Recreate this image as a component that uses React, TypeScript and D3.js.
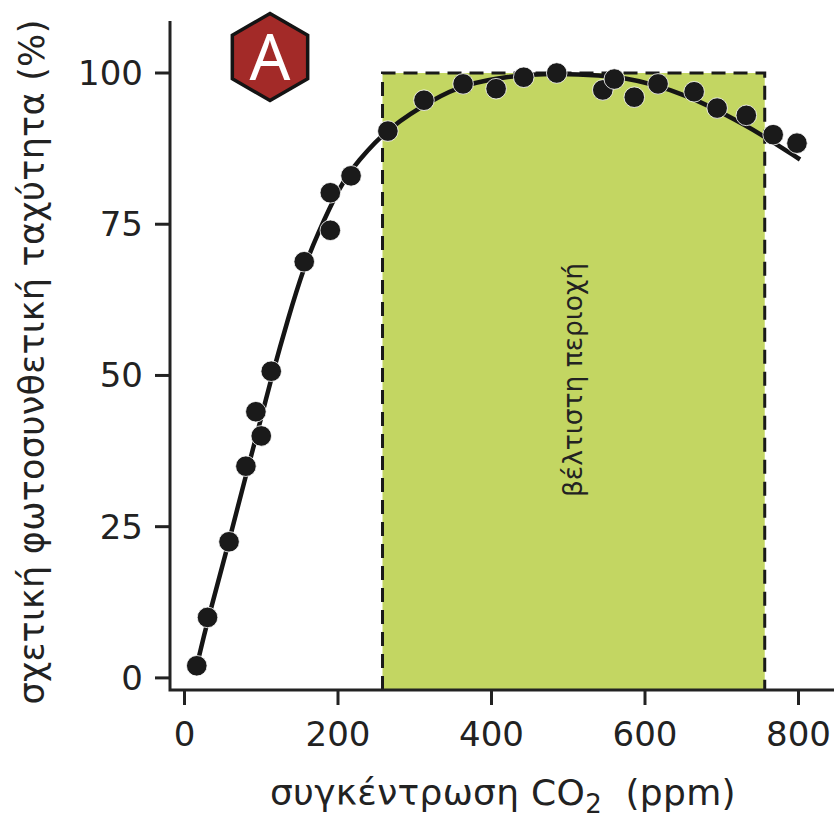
import * as d3 from "d3";
import React from "react";

const width = 836;
const height = 820;

// measured points
const pointX = [16, 30, 58, 80, 93, 100, 113, 156, 190, 190, 217, 265, 312, 363, 406, 442, 485, 545, 560, 586, 617, 664, 694, 732, 767, 798];
const pointY = [2, 10, 22.5, 35, 44, 40, 50.7, 68.8, 74, 80.2, 83, 90.4, 95.5, 98.2, 97.4, 99.3, 100, 97.2, 99, 96, 98.2, 96.9, 94.2, 93, 89.8, 88.4];

// fitted curve
const curveX = [16, 30, 58, 80, 100, 113, 135, 156, 172, 203, 225, 265, 329, 363, 420, 485, 545, 571, 606, 655, 707, 750, 802];
const curveY = [2, 9.5, 22.5, 33.5, 43, 49.5, 59.5, 68, 73, 81.5, 85.3, 91, 96, 98, 99.5, 100, 99.6, 99.2, 98.3, 96.3, 93, 90, 85.7];

const xTicks = [0, 200, 400, 600, 800];
const yTicks = [0, 25, 50, 75, 100];
const optimalRange = [258, 756];

const ink = "#222222";
const font = "'DejaVu Sans', Verdana, sans-serif";

export default function App() {
  const x = d3.scaleLinear().domain([0, 800]).range([184.5, 798.5]);
  const y = d3.scaleLinear().domain([-2, 100]).range([690, 73]);

  const axisLeft = 170;
  const axisBottom = y(-2);

  const curve = d3
    .line<number>()
    .x((d) => x(d))
    .y((d, i) => y(curveY[i]))
    .curve(d3.curveBasis);

  // hexagon badge
  const hexagon = d3
    .line<number>()
    .x((d) => 270 + 43.5 * Math.sin((d * Math.PI) / 3))
    .y((d) => 57 - 43.5 * Math.cos((d * Math.PI) / 3))
    .curve(d3.curveLinearClosed);

  const x0 = x(optimalRange[0]);
  const x1 = x(optimalRange[1]);
  const top = y(100);

  return (
    <svg
      width={width}
      height={height}
      style={{ position: "absolute", left: 0, top: 0, background: "#fff" }}
    >
      {/* optimal zone */}
      <rect x={x0} y={top} width={x1 - x0} height={axisBottom - top} fill="#c3d662" />
      <path
        d={`M${x0},${axisBottom}V${top}H${x1}V${axisBottom}`}
        fill="none"
        stroke="#1a1a1a"
        strokeWidth="3"
        strokeDasharray="14 8"
      />

      {/* axes */}
      <g stroke={ink} strokeWidth="3" fill="none">
        <path d={`M${axisLeft},21V${axisBottom}H834`} />
        {xTicks.map((t) => (
          <line key={t} x1={x(t)} x2={x(t)} y1={axisBottom} y2={705} />
        ))}
        {yTicks.map((t) => (
          <line key={t} x1={155} x2={axisLeft} y1={y(t)} y2={y(t)} />
        ))}
      </g>
      <g fontFamily={font} fontSize="34" fill={ink}>
        {xTicks.map((t) => (
          <text key={t} x={x(t)} y={746} textAnchor="middle">
            {t}
          </text>
        ))}
        {yTicks.map((t) => (
          <text key={t} x={143} y={y(t) + 12} textAnchor="end">
            {t}
          </text>
        ))}
        <text x={270} y={805} fontSize="36" letterSpacing="0.3">
          συγκέντρωση CO
          <tspan dy="8" fontSize="26">2</tspan>
          <tspan dy="-8" xmlSpace="preserve">{"  (ppm)"}</tspan>
        </text>
        <text
          transform="translate(44,362) rotate(-90)"
          textAnchor="middle"
          fontSize="35"
          letterSpacing="0.27"
        >
          σχετική φωτοσυνθετική ταχύτητα (%)
        </text>
      </g>

      <text
        transform="translate(582,380) rotate(-90)"
        textAnchor="middle"
        fontFamily={font}
        fontSize="26.5"
        fill={ink}
      >
        βέλτιστη περιοχή
      </text>

      {/* curve and points */}
      <path d={curve(curveX) ?? ""} fill="none" stroke="#151515" strokeWidth="4.5" />
      <g fill="#1a1a1a" stroke="#ffffff" strokeOpacity="0.8" strokeWidth="1">
        {pointX.map((d, i) => (
          <circle key={i} cx={x(d)} cy={y(pointY[i])} r="10.3" />
        ))}
      </g>

      {/* badge */}
      <path
        d={hexagon([0, 1, 2, 3, 4, 5]) ?? ""}
        fill="#a32a28"
        stroke="#141414"
        strokeWidth="3.5"
        strokeLinejoin="miter"
      />
      <text
        x={270}
        y={80}
        textAnchor="middle"
        fontFamily="'Noto Sans', sans-serif"
        fontSize="64"
        fill="#ffffff"
      >
        A
      </text>
    </svg>
  );
}
